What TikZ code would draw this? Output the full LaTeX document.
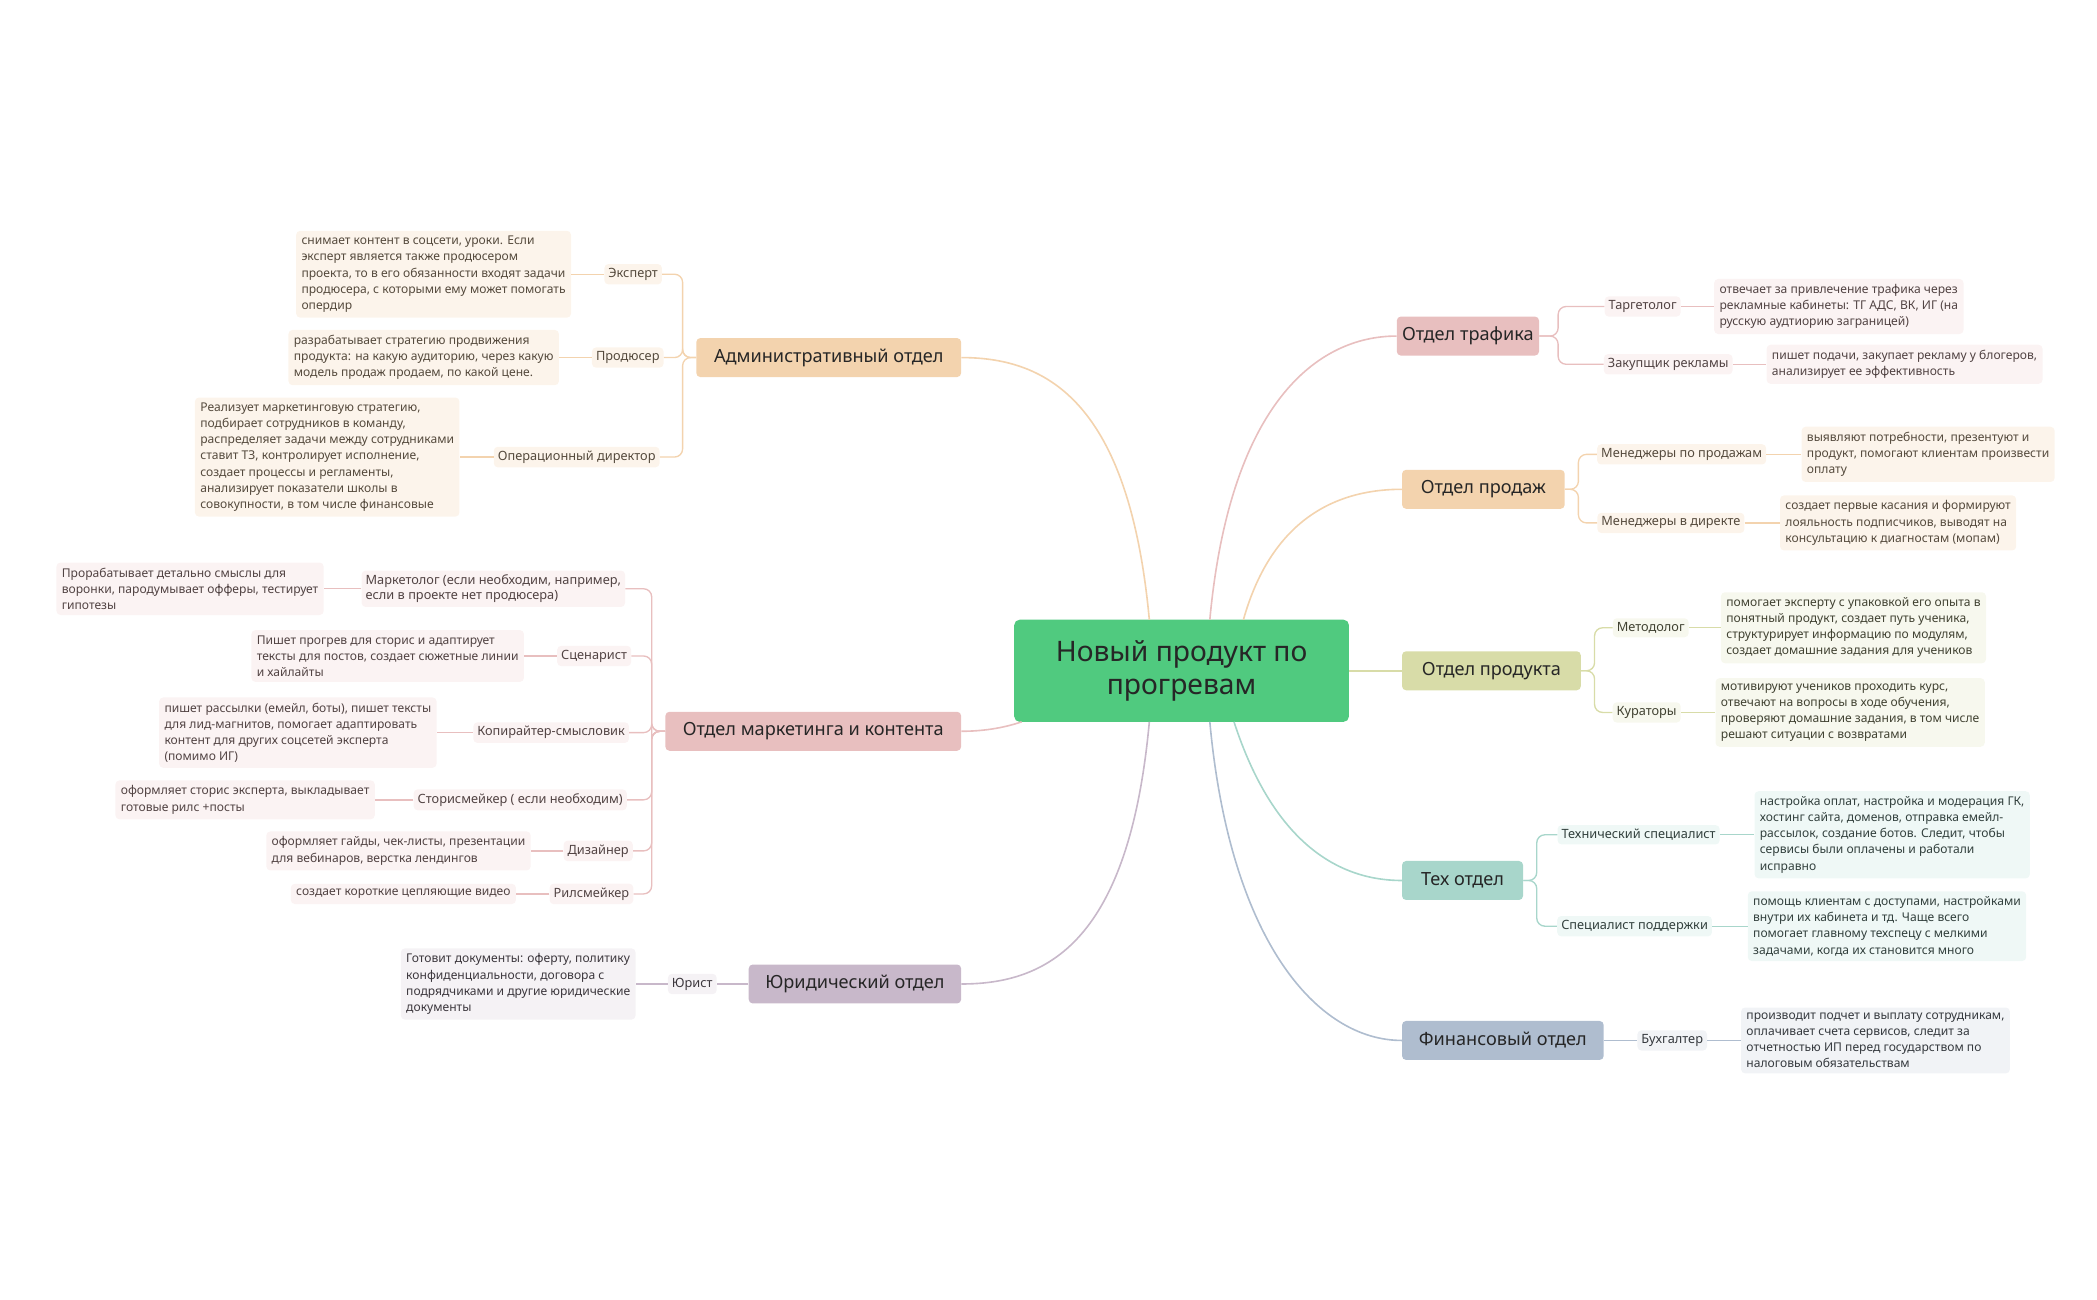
\documentclass[tikz,border=0pt]{standalone}
\usepackage{fontspec}
\setmainfont{Noto Sans}
\definecolor{cGreen}{HTML}{50CA7F}
\definecolor{cPink}{HTML}{E8BFBF}
\definecolor{cPeach}{HTML}{F3D3AE}
\definecolor{cOlive}{HTML}{D8DCA8}
\definecolor{cTeal}{HTML}{A8D6CB}
\definecolor{cBlue}{HTML}{AFBDCF}
\definecolor{cLilac}{HTML}{C8B8CA}
\begin{document}
\begin{tikzpicture}[x=1pt,y=-1pt,
 main/.style={rounded corners=3pt,minimum height=29pt,inner xsep=4pt,font=\fontsize{13.5}{16}\selectfont,text=black!85},
 sub/.style={rounded corners=3pt,inner sep=3pt,font=\fontsize{9.5}{11.5}\selectfont,align=center},
 desc/.style={rounded corners=3pt,inner sep=4pt,font=\fontsize{9}{12}\selectfont,align=left},
 ln/.style={line width=1.2pt,rounded corners=6pt},
 bP/.style={fill=cPink!18!white,text=cPink!35!black},
 bE/.style={fill=cPeach!25!white,text=cPeach!35!black},
 bO/.style={fill=cOlive!20!white,text=cOlive!30!black},
 bT/.style={fill=cTeal!18!white,text=cTeal!30!black},
 bB/.style={fill=cBlue!18!white,text=cBlue!30!black},
 bL/.style={fill=cLilac!18!white,text=cLilac!30!black}]
\useasboundingbox (0,0) rectangle (1560,967);

\node[fill=cGreen,rounded corners=4pt,minimum width=249pt,minimum height=76pt,align=center,font=\fontsize{21}{25}\selectfont,text=black!85] (c) at (879,499) {Новый продукт по\\прогревам};
\coordinate (ct1) at (855,461); \coordinate (ct2) at (900,461); \coordinate (ct3) at (925,461);
\coordinate (cb1) at (855,537); \coordinate (cb2) at (900,537); \coordinate (cb3) at (918,537);
\coordinate (cl) at (760,537);

% ---------- right ----------
\node[main,fill=cPink,minimum width=98pt] (traf) at (1092,250) {Отдел трафика};
\node[main,fill=cPeach,minimum width=121pt] (prod) at (1103.5,364) {Отдел продаж};
\node[main,fill=cOlive,minimum width=133pt] (prd) at (1109.5,499) {Отдел продукта};
\node[main,fill=cTeal,minimum width=90pt] (tech) at (1088,655) {Тех отдел};
\node[main,fill=cBlue,minimum width=150pt] (fin) at (1118,774) {Финансовый отдел};

\draw[ln,cPink] (ct2) .. controls (915,300) and (980,250) .. (traf.west);
\draw[ln,cPeach] (ct3) .. controls (945,390) and (990,364) .. (prod.west);
\draw[ln,cOlive] (c.east) -- (prd.west);
\draw[ln,cTeal] (cb3) .. controls (945,620) and (990,655) .. (tech.west);
\draw[ln,cBlue] (cb2) .. controls (915,700) and (980,774) .. (fin.west);

\node[sub,bP] (t1) at (1222,228) {Таргетолог};
\node[desc,bP,anchor=west] (t1d) at (1275,228) {отвечает за привлечение трафика через\\рекламные кабинеты: ТГ АДС, ВК, ИГ (на\\русскую аудтиорию заграницей)};
\node[sub,bP] (t2) at (1241,271) {Закупщик рекламы};
\node[desc,bP,anchor=west] (t2d) at (1314,271) {пишет подачи, закупает рекламу у блогеров,\\анализирует ее эффективность};
\draw[ln,cPink,line width=1pt] (traf.east) -- ++(14,0) |- (t1.west);
\draw[ln,cPink,line width=1pt] (traf.east) -- ++(14,0) |- (t2.west);
\draw[cPink,line width=1pt] (t1) -- (t1d); \draw[cPink,line width=1pt] (t2) -- (t2d);

\node[sub,bE] (s1) at (1251,338) {Менеджеры по продажам};
\node[desc,bE,anchor=west] (s1d) at (1340,338) {выявляют потребности, презентуют и\\продукт, помогают клиентам произвести\\оплату};
\node[sub,bE] (s2) at (1243,389) {Менеджеры в директе};
\node[desc,bE,anchor=west] (s2d) at (1324,389) {создает первые касания и формируют\\лояльность подписчиков, выводят на\\консультацию к диагностам (мопам)};
\draw[ln,cPeach,line width=1pt] (prod.east) -- ++(10,0) |- (s1.west);
\draw[ln,cPeach,line width=1pt] (prod.east) -- ++(10,0) |- (s2.west);
\draw[cPeach,line width=1pt] (s1) -- (s1d); \draw[cPeach,line width=1pt] (s2) -- (s2d);

\node[sub,bO] (p1) at (1228,467) {Методолог};
\node[desc,bO,anchor=west] (p1d) at (1280,467) {помогает эксперту с упаковкой его опыта в\\понятный продукт, создает путь ученика,\\структурирует информацию по модулям,\\создает домашние задания для учеников};
\node[sub,bO] (p2) at (1225,530) {Кураторы};
\node[desc,bO,anchor=west] (p2d) at (1276,530) {мотивируют учеников проходить курс,\\отвечают на вопросы в ходе обучения,\\проверяют домашние задания, в том числе\\решают ситуации с возвратами};
\draw[ln,cOlive,line width=1pt] (prd.east) -- ++(10,0) |- (p1.west);
\draw[ln,cOlive,line width=1pt] (prd.east) -- ++(10,0) |- (p2.west);
\draw[cOlive,line width=1pt] (p1) -- (p1d); \draw[cOlive,line width=1pt] (p2) -- (p2d);

\node[sub,bT] (h1) at (1219,621) {Технический специалист};
\node[desc,bT,anchor=west] (h1d) at (1305,621) {настройка оплат, настройка и модерация ГК,\\хостинг сайта, доменов, отправка емейл-\\рассылок, создание ботов. Следит, чтобы\\сервисы были оплачены и работали\\исправно};
\node[sub,bT] (h2) at (1216,689) {Специалист поддержки};
\node[desc,bT,anchor=west] (h2d) at (1300,689) {помощь клиентам с доступами, настройками\\внутри их кабинета и тд. Чаще всего\\помогает главному техспецу с мелкими\\задачами, когда их становится много};
\draw[ln,cTeal,line width=1pt] (tech.east) -- ++(10,0) |- (h1.west);
\draw[ln,cTeal,line width=1pt] (tech.east) -- ++(10,0) |- (h2.west);
\draw[cTeal,line width=1pt] (h1) -- (h1d); \draw[cTeal,line width=1pt] (h2) -- (h2d);

\node[sub,bB] (f1) at (1244,774) {Бухгалтер};
\node[desc,bB,anchor=west] (f1d) at (1295,774) {производит подчет и выплату сотрудникам,\\оплачивает счета сервисов, следит за\\отчетностью ИП перед государством по\\налоговым обязательствам};
\draw[cBlue,line width=1pt] (fin) -- (f1); \draw[cBlue,line width=1pt] (f1) -- (f1d);

% ---------- left ----------
\node[main,fill=cPeach,minimum width=197pt] (adm) at (616.5,266) {Административный отдел};
\node[main,fill=cPink,minimum width=220pt] (mkt) at (605,544) {Отдел маркетинга и контента};
\node[main,fill=cLilac,minimum width=158pt] (leg) at (636,732) {Юридический отдел};
\draw[ln,cPeach] (ct1) .. controls (840,300) and (780,266) .. (adm.east);
\draw[ln,cPink] (cl) .. controls (745,542) and (730,544) .. (mkt.east);
\draw[ln,cLilac] (cb1) .. controls (840,700) and (780,732) .. (leg.east);

\node[sub,bE] (a1) at (471,204) {Эксперт};
\node[desc,bE,anchor=east] (a1d) at (425,204) {снимает контент в соцсети, уроки. Если\\эксперт является также продюсером\\проекта, то в его обязанности входят задачи\\продюсера, с которыми ему может помогать\\опердир};
\node[sub,bE] (a2) at (467,266) {Продюсер};
\node[desc,bE,anchor=east] (a2d) at (416,266) {разрабатывает стратегию продвижения\\продукта: на какую аудиторию, через какую\\модель продаж продаем, по какой цене.};
\node[sub,bE] (a3) at (429,340) {Операционный директор};
\node[desc,bE,anchor=east] (a3d) at (342,340) {Реализует маркетинговую стратегию,\\подбирает сотрудников в команду,\\распределяет задачи между сотрудниками\\ставит ТЗ, контролирует исполнение,\\создает процессы и регламенты,\\анализирует показатели школы в\\совокупности, в том числе финансовые};
\foreach \n in {a1,a2,a3}{\draw[ln,cPeach,line width=1pt] (adm.west) -- ++(-10,0) |- (\n.east);}
\foreach \n in {a1,a2,a3}{\draw[cPeach,line width=1pt] (\n) -- (\n d);}

\node[sub,bP,align=left] (m1) at (367,438) {Маркетолог (если необходим, например,\\если в проекте нет продюсера)};
\node[desc,bP,anchor=east] (m1d) at (241,438) {Прорабатывает детально смыслы для\\воронки, пародумывает офферы, тестирует\\гипотезы};
\node[sub,bP] (m2) at (442,488) {Сценарист};
\node[desc,bP,anchor=east] (m2d) at (390,488) {Пишет прогрев для сторис и адаптирует\\тексты для постов, создает сюжетные линии\\и хайлайты};
\node[sub,bP] (m3) at (410,545) {Копирайтер-смысловик};
\node[desc,bP,anchor=east] (m3d) at (325,545) {пишет рассылки (емейл, боты), пишет тексты\\для лид-магнитов, помогает адаптировать\\контент для других соцсетей эксперта\\(помимо ИГ)};
\node[sub,bP] (m4) at (387,595) {Сторисмейкер ( если необходим)};
\node[desc,bP,anchor=east] (m4d) at (279,595) {оформляет сторис эксперта, выкладывает\\готовые рилс +посты};
\node[sub,bP] (m5) at (445,633) {Дизайнер};
\node[desc,bP,anchor=east] (m5d) at (395,633) {оформляет гайды, чек-листы, презентации\\для вебинаров, верстка лендингов};
\node[sub,bP] (m6) at (440,665) {Рилсмейкер};
\node[desc,bP,anchor=east] (m6d) at (384,665) {создает короткие цепляющие видео};
\foreach \n in {m1,m2,m3,m4,m5,m6}{\draw[ln,cPink,line width=1pt] (mkt.west) -- ++(-10,0) |- (\n.east);}
\foreach \n in {m1,m2,m3,m4,m5,m6}{\draw[cPink,line width=1pt] (\n) -- (\n d);}

\node[sub,bL] (j1) at (515,732) {Юрист};
\node[desc,bL,anchor=east] (j1d) at (473,732) {Готовит документы: оферту, политику\\конфиденциальности, договора с\\подрядчиками и другие юридические\\документы};
\draw[cLilac,line width=1pt] (leg) -- (j1); \draw[cLilac,line width=1pt] (j1) -- (j1d);
\end{tikzpicture}
\end{document}
